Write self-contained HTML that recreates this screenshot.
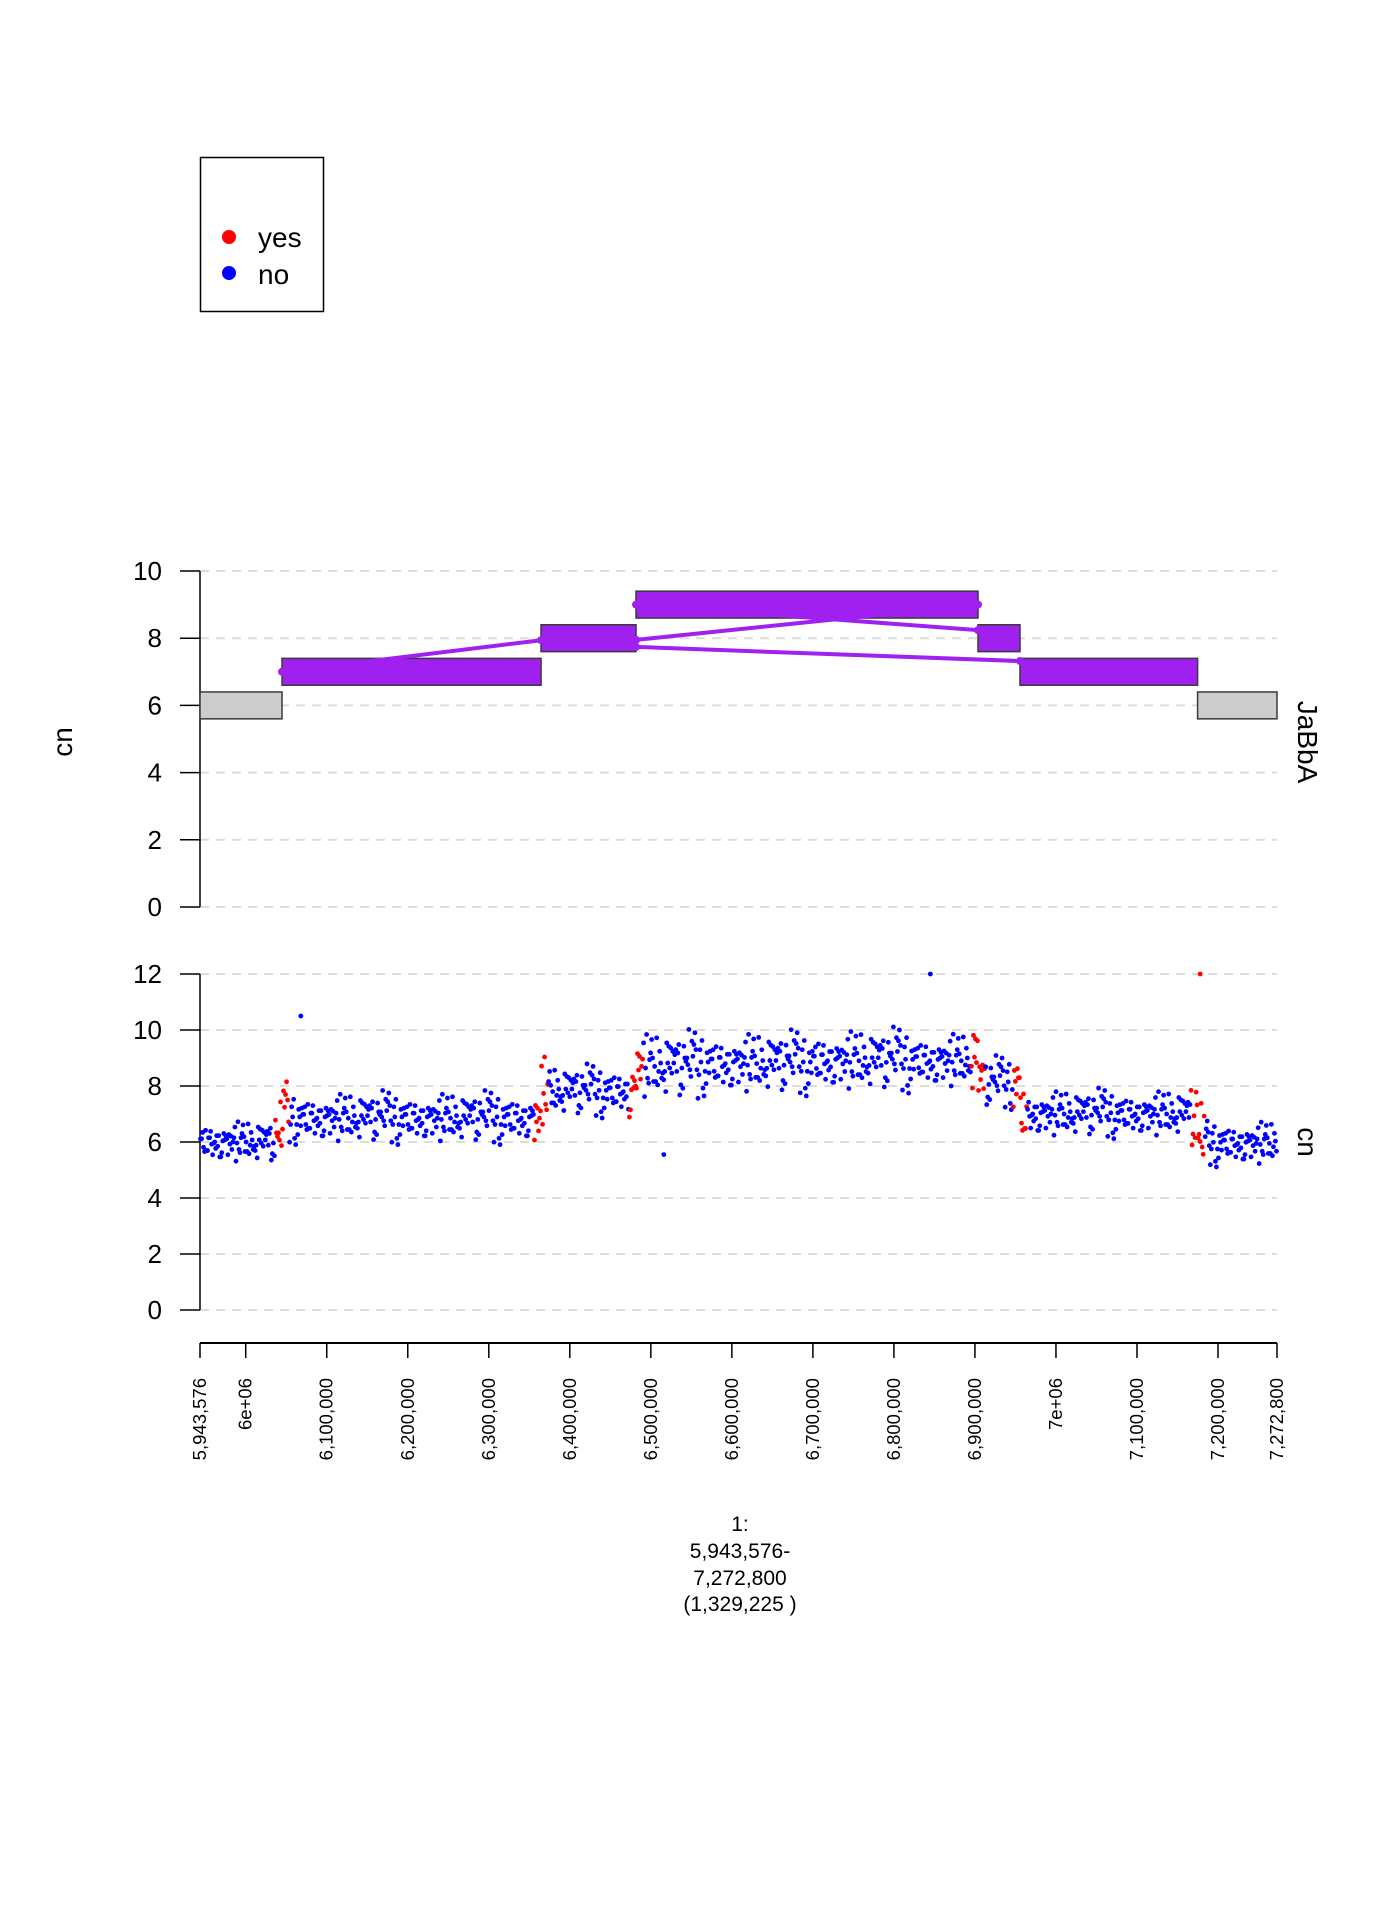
<!DOCTYPE html>
<html><head><meta charset="utf-8"><style>
html,body{margin:0;padding:0;background:#fff;}
svg{display:block;font-family:"Liberation Sans",Arial,sans-serif;}
</style></head><body>
<svg id="chart" width="1400" height="1920" viewBox="0 0 1400 1920"></svg>
<script>
// ---- data ----
const segStarts=[5943576,6044800,6364500,6481700,6903800,6955600,7174800];
const segEnds=[6044800,6364500,6481700,6903800,6955600,7174800,7272800];
const segCn=[6,7,8,9,8,7,6];
const segAmp=[0,1,1,1,1,1,0];
const linkFromPos=[6044800,6481700,6481700,6481700];
const linkFromCn=[7.0,7.95,9.0,7.74];
const linkToPos=[6364500,6903800,6903800,6955600];
const linkToCn=[7.94,9.0,8.24,7.32];
const binStarts=[5943576,6044800,6364500,6481700,6560000,6700000,6820000,6903800,6955600,7174800];
const binEnds=[6044800,6364500,6481700,6560000,6700000,6820000,6903800,6955600,7174800,7272800];
const binMean=[6.0,6.85,7.8,8.7,8.8,8.9,8.9,8.1,7.0,5.95];
const binSd=[0.38,0.45,0.45,0.6,0.55,0.55,0.5,0.45,0.42,0.4];
const jitter=[0.3,-1.1,0.8,-0.2,1.5,-0.7,0.1,-1.6,0.9,0.4,-0.5,1.2,-0.9,0.0,2.0,-0.3,0.6,-1.3,1.0,-0.1,
-0.8,0.5,1.7,-0.4,-1.9,0.2,0.7,-0.6,1.3,-1.0,0.4,-0.2,0.9,-1.4,0.1,1.1,-0.7,0.3,-0.1,1.6,
-1.2,0.6,-0.4,0.8,-2.1,0.2,1.4,-0.9,0.5,0.0,-0.6,1.0,-1.5,0.3,0.7,-0.3,1.9,-0.8,0.1,-1.1,
0.6,-0.5,1.2,-0.2,0.8,-1.7,0.4,1.0,-0.6,0.2,-1.0,1.5,-0.4,0.0,0.9,-1.3,0.5,-0.1,1.3,-0.8,
0.2,-0.5,0.7,-1.8,1.1,0.3,-0.9,0.6,-0.2,1.4,-1.2,0.1,0.8,-0.7,0.4,2.2,-0.3,-1.4,0.9,-0.1,0.55];
const outPos=[6068000,6516000,6845000,7178000];
const outCn=[10.5,5.55,12,12];
const outRed=[0,0,0,1];
const xTickPos=[5943576,6000000,6100000,6200000,6300000,6400000,6500000,6600000,6700000,6800000,6900000,7000000,7100000,7200000,7272800];
const xTickLab=["5,943,576","6e+06","6,100,000","6,200,000","6,300,000","6,400,000","6,500,000","6,600,000","6,700,000","6,800,000","6,900,000","7e+06","7,100,000","7,200,000","7,272,800"];
const topTicks=[0,2,4,6,8,10];
const botTicks=[0,2,4,6,8,10,12];

// ---- scales ----
const X0=200,X1=1277,G0=5943576,G1=7272800;
const xs=g=>X0+(g-G0)/(G1-G0)*(X1-X0);
const yTop=v=>907-v*33.6;
const yBot=v=>1310-v*28;
const svg=document.getElementById('chart');
const NS='http://www.w3.org/2000/svg';
function mk(tag,attrs,parent){const e=document.createElementNS(NS,tag);for(const k in attrs)e.setAttribute(k,attrs[k]);(parent||svg).appendChild(e);return e;}

// legend
const leg=mk('g',{});


mk('rect',{x:200.5,y:157.5,width:123,height:154,fill:'none',stroke:'#000','stroke-width':1.5},leg);
const l1=mk('circle',{cx:229,cy:237,r:7,fill:'#ff0000'},leg);


const t1=mk('text',{x:258,y:247,'font-size':28},leg);t1.textContent='yes';


const l2=mk('circle',{cx:229,cy:273,r:7,fill:'#0000ff'},leg);


const t2=mk('text',{x:258,y:284,'font-size':28},leg);t2.textContent='no';



// axes helper
function yAxis(ticks,ys,name){
  const g=mk('g',{});
  
  
  ticks.forEach(t=>{
    mk('line',{x1:X0,x2:X1,y1:ys(t),y2:ys(t),stroke:'#dcdcdc','stroke-width':2,'stroke-dasharray':'9,7'},g);
    mk('line',{x1:180,x2:X0,y1:ys(t),y2:ys(t),stroke:'#000','stroke-width':1.5},g);
    const tx=mk('text',{x:162,y:ys(t)+9,'font-size':26,'text-anchor':'end'},g);tx.textContent=t;
  });
  mk('line',{x1:X0,x2:X0,y1:ys(ticks[0]),y2:ys(ticks[ticks.length-1]),stroke:'#000','stroke-width':1.5},g);
}
yAxis(topTicks,yTop,'top-y-axis');
yAxis(botTicks,yBot,'bottom-y-axis');

// labels
function rlabel(txt,x,y,rot,name,fs){const t=mk('text',{x:x,y:y,'font-size':fs||28,'text-anchor':'middle',transform:`rotate(${rot} ${x} ${y})`});t.textContent=txt;
 
 }
rlabel('cn',72,742,-90,'top-y-axis-title');
rlabel('JaBbA',1298,742,90,'top-track-label');
rlabel('cn',1298,1142,90,'bottom-track-label');

// segments
const segG=mk('g',{});


segCn.forEach((c,i)=>{
  const r=mk('rect',{x:xs(segStarts[i]),y:yTop(c+0.4),width:xs(segEnds[i])-xs(segStarts[i]),height:yTop(c-0.4)-yTop(c+0.4),
    fill:segAmp[i]?'#a020f0':'#cccccc',stroke:'#3a3a3a','stroke-width':1.5},segG);
  
  
});
// links
linkFromPos.forEach((p,i)=>{
  const ln=mk('line',{x1:xs(p),y1:yTop(linkFromCn[i]),x2:xs(linkToPos[i]),y2:yTop(linkToCn[i]),stroke:'#a020f0','stroke-width':4},segG);
  
  
  [[p,linkFromCn[i]],[linkToPos[i],linkToCn[i]]].forEach(q=>{
    const d=mk('circle',{cx:xs(q[0]),cy:yTop(q[1]),r:4,fill:'#a020f0'},segG);
    
    
  });
});

// scatter
const ptG=mk('g',{});


const bps=segStarts.slice(1);
let k=0;
binMean.forEach((m,i)=>{
  const len=binEnds[i]-binStarts[i];
  const n=Math.round(len/1250);
  for(let j=0;j<n;j++){
    const g=binStarts[i]+(j+0.5)*len/n;
    const near=bps.some(b=>Math.abs(g-b)<9000);
    const v=m+jitter[k%jitter.length]*(near?0.65:binSd[i]);
    k+=37;
    const c=mk('circle',{cx:xs(g),cy:yBot(v),r:2.4,fill:near?'#ff0000':'#0000ff'},ptG);
    
    
  }
});
outPos.forEach((p,i)=>{
  const c=mk('circle',{cx:xs(p),cy:yBot(outCn[i]),r:2.4,fill:outRed[i]?'#ff0000':'#0000ff'},ptG);
  
  
});

// x axis
const xg=mk('g',{});


mk('line',{x1:X0,x2:X1,y1:1343,y2:1343,stroke:'#000','stroke-width':2},xg);
xTickPos.forEach((p,i)=>{
  const x=xs(p);
  mk('line',{x1:x,x2:x,y1:1343,y2:1358,stroke:'#000','stroke-width':1.5},xg);
  const t=mk('text',{x:x+6,y:1378,'font-size':18.5,'text-anchor':'end',transform:`rotate(-90 ${x+6} 1378)`},xg);
  t.textContent=xTickLab[i];
});
const capLines=["1:","5,943,576-","7,272,800","(1,329,225 )"];
const capY=[1531,1558,1585,1611];
capLines.forEach((s,i)=>{const t=mk('text',{x:740,y:capY[i],'font-size':21,'text-anchor':'middle'});t.textContent=s;
  
  });
</script>
</body></html>
